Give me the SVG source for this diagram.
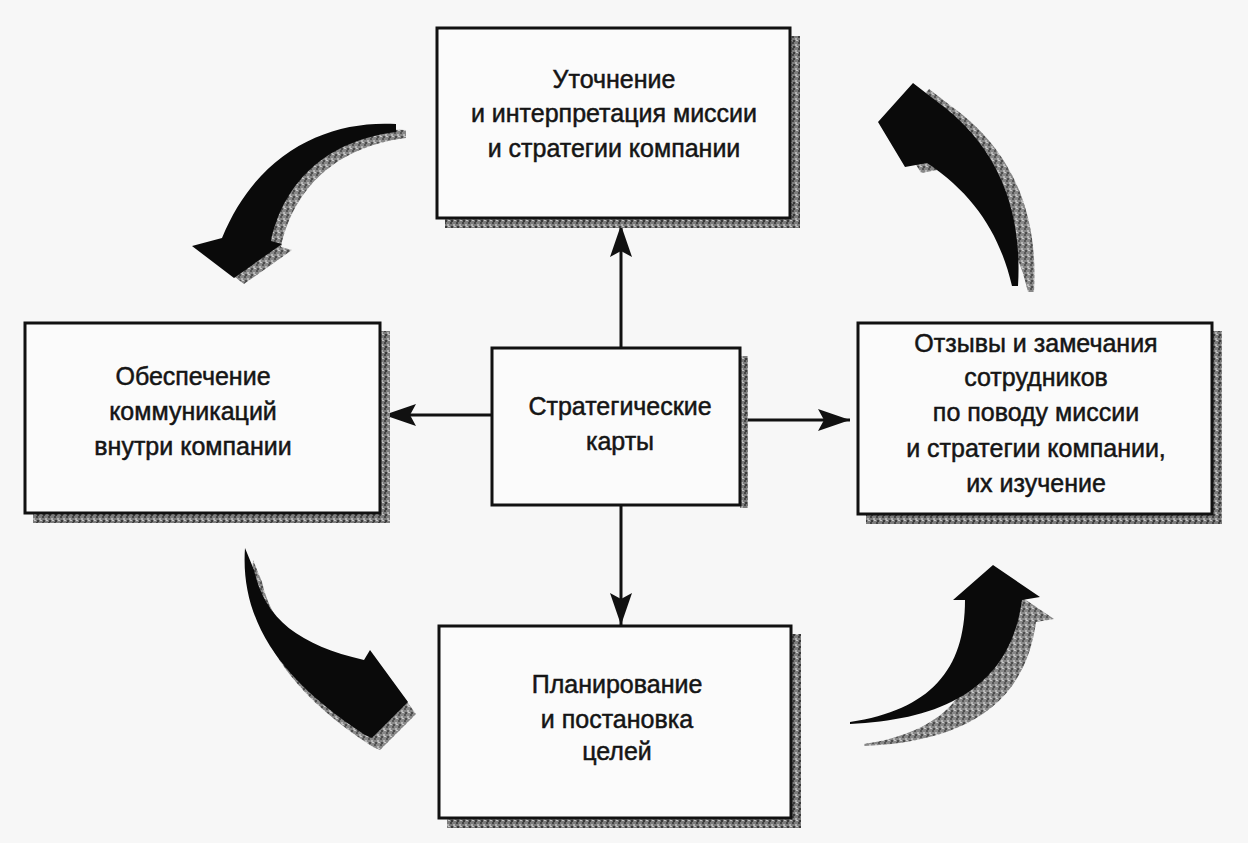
<svg xmlns="http://www.w3.org/2000/svg" width="1248" height="843" viewBox="0 0 1248 843">
<defs>
<pattern id="grain" width="6" height="6" patternUnits="userSpaceOnUse">
<rect width="6" height="6" fill="#7c7c7c"/>
<rect x="0" y="0" width="2" height="2" fill="#444"/>
<rect x="3" y="2" width="2" height="2" fill="#b0b0b0"/>
<rect x="1" y="4" width="2" height="2" fill="#3a3a3a"/>
<rect x="4" y="4" width="2" height="1" fill="#c4c4c4"/>
</pattern>
<marker id="ahb" viewBox="0 0 32 22" refX="32" refY="11" markerWidth="32" markerHeight="22" markerUnits="userSpaceOnUse" orient="auto">
<path d="M0,0 L32,11 L0,22 L6,11 Z" fill="#111"/>
</marker>
</defs>
<style>
.box{fill:#fbfbfb;stroke:#111;stroke-width:3}
.shd{fill:url(#grain)}
.t{font-family:"Liberation Sans",Arial,sans-serif;font-size:25px;fill:#151515;stroke:#151515;stroke-width:0.5;text-anchor:middle}
.ln{stroke:#111;stroke-width:3;fill:none}
.big{fill:#0a0a0a}
.bigs{fill:url(#grain);opacity:0.9}
</style>
<rect width="1248" height="843" fill="#f7f7f7"/>

<g id="curved-arrows">
<!-- top-left -->
<path class="bigs" transform="translate(10,6)" d="M396,124 C330,120 258,150 222,238 L192,246 L234,278 L282,244 L271,241 C282,190 318,142 396,132 Z"/>
<path class="big" d="M396,124 C330,120 258,150 222,238 L192,246 L234,278 L282,244 L271,241 C282,190 318,142 396,132 Z"/>
<!-- top-right -->
<path class="bigs" transform="translate(16,6)" d="M1018,286 C1022,220 1005,150 935,100 L913,83 L878,122 L905,167 L927,163 C975,195 1000,235 1012,286 Z"/>
<path class="big" d="M1018,286 C1022,220 1005,150 935,100 L913,83 L878,122 L905,167 L927,163 C975,195 1000,235 1012,286 Z"/>
<!-- bottom-left -->
<path class="bigs" transform="translate(8,12)" d="M245,548 C240,620 280,680 365,735 L372,738 L408,702 L370,650 L364,660 C300,645 265,620 254,570 Z"/>
<path class="big" d="M245,548 C240,620 280,680 365,735 L372,738 L408,702 L370,650 L364,660 C300,645 265,620 254,570 Z"/>
<!-- bottom-right -->
<path class="bigs" transform="translate(14,22)" d="M850,722 C930,710 965,670 965,600 L953,600 L993,565 L1040,597 L1022,600 C1010,690 940,720 850,724 Z"/>
<path class="big" d="M850,722 C930,710 965,670 965,600 L953,600 L993,565 L1040,597 L1022,600 C1010,690 940,720 850,724 Z"/>
</g>

<g id="connectors">
<line class="ln" x1="621" y1="348" x2="621" y2="225" marker-end="url(#ahb)"/>
<line class="ln" x1="621" y1="505" x2="621" y2="625" marker-end="url(#ahb)"/>
<line class="ln" x1="492" y1="415" x2="384" y2="415" marker-end="url(#ahb)"/>
<line class="ln" x1="740" y1="420" x2="850" y2="420" marker-end="url(#ahb)"/>
</g>

<g id="node-top">
<rect class="shd" x="790" y="36" width="10" height="192"/>
<rect class="shd" x="445" y="218" width="355" height="10"/>
<rect class="box" x="437" y="28" width="353" height="190"/>
<text class="t" x="614" y="88">Уточнение</text>
<text class="t" x="614" y="122">и интерпретация миссии</text>
<text class="t" x="614" y="157">и стратегии компании</text>
</g>

<g id="node-left">
<rect class="shd" x="380" y="331" width="10" height="192"/>
<rect class="shd" x="33" y="513" width="357" height="10"/>
<rect class="box" x="25" y="323" width="355" height="190"/>
<text class="t" x="193" y="385">Обеспечение</text>
<text class="t" x="193" y="420">коммуникаций</text>
<text class="t" x="193" y="455">внутри компании</text>
</g>

<g id="node-center">
<rect class="shd" x="740" y="356" width="8" height="152"/>
<rect class="box" x="492" y="348" width="248" height="157"/>
<text class="t" x="620" y="415">Стратегические</text>
<text class="t" x="620" y="450">карты</text>
</g>

<g id="node-right">
<rect class="shd" x="1212" y="331" width="10" height="193"/>
<rect class="shd" x="866" y="514" width="356" height="10"/>
<rect class="box" x="858" y="323" width="354" height="191"/>
<text class="t" x="1036" y="352">Отзывы и замечания</text>
<text class="t" x="1036" y="386">сотрудников</text>
<text class="t" x="1036" y="421">по поводу миссии</text>
<text class="t" x="1036" y="457">и стратегии компании,</text>
<text class="t" x="1036" y="492">их изучение</text>
</g>

<g id="node-bottom">
<rect class="shd" x="791" y="634" width="10" height="194"/>
<rect class="shd" x="447" y="818" width="354" height="10"/>
<rect class="box" x="439" y="626" width="352" height="192"/>
<text class="t" x="617" y="693">Планирование</text>
<text class="t" x="617" y="728">и постановка</text>
<text class="t" x="617" y="760">целей</text>
</g>
</svg>
